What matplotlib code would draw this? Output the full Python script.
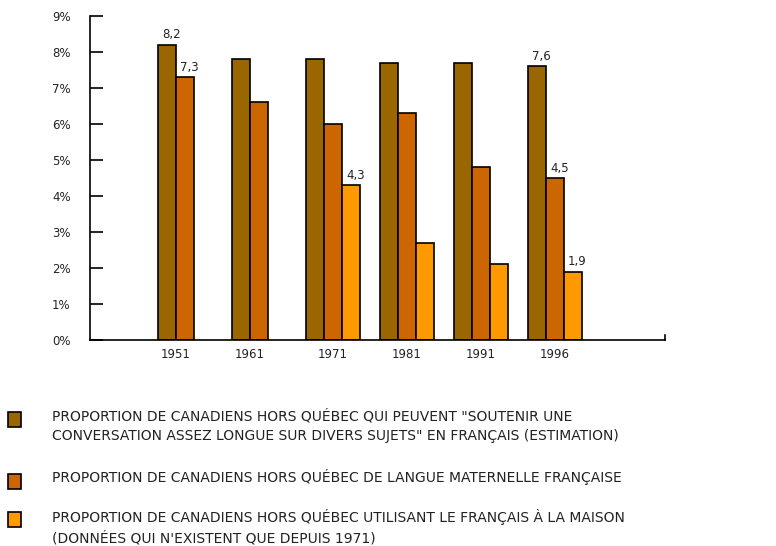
import numpy as np
import matplotlib
matplotlib.use("Agg")
import matplotlib.pyplot as plt
from matplotlib.patches import Rectangle

years = ["1951", "1961", "1971", "1981", "1991", "1996"]
conversation = [8.2, 7.8, 7.8, 7.7, 7.7, 7.6]
maternelle = [7.3, 6.6, 6.0, 6.3, 4.8, 4.5]
maison = [None, None, 4.3, 2.7, 2.1, 1.9]

series_labels = [
    'PROPORTION DE CANADIENS HORS QUÉBEC QUI PEUVENT "SOUTENIR UNE\n'
    'CONVERSATION ASSEZ LONGUE SUR DIVERS SUJETS" EN FRANÇAIS (ESTIMATION)',
    "PROPORTION DE CANADIENS HORS QUÉBEC DE LANGUE MATERNELLE FRANÇAISE",
    "PROPORTION DE CANADIENS HORS QUÉBEC UTILISANT LE FRANÇAIS À LA MAISON\n"
    "(DONNÉES QUI N'EXISTENT QUE DEPUIS 1971)",
]
colors = ["#996600", "#CC6600", "#FF9900"]

# value labels shown on the chart: (series, year index)
shown = [(0, 0), (1, 0), (2, 2), (0, 5), (1, 5), (2, 5)]

fig = plt.figure(figsize=(7.76, 5.46), dpi=100)
ax = fig.add_axes([90 / 776, 1 - 340 / 546, 575 / 776, 324 / 546])

w = 18 / 74
series = [conversation, maternelle, maison]
for j, vals in enumerate(series):
    for i, v in enumerate(vals):
        if v is None:
            continue
        ax.bar(i + j * w, v, width=w, align="edge", color=colors[j],
               edgecolor="black", linewidth=1.2)

fmt = lambda v: f"{v:.1f}".replace(".", ",")
for j, i in shown:
    v = series[j][i]
    ax.annotate(fmt(v), (i + j * w, v), xytext=(3, 2.5), textcoords="offset points",
                ha="left", va="bottom", fontsize=8.5, color="#222222")

# year labels centered under the bars that exist
for i, y in enumerate(years):
    n = sum(1 for s in series if s[i] is not None)
    ax.text(i + n * w / 2, -0.22, y, ha="center", va="top", fontsize=8.5,
            color="#222222", transform=ax.transData)

ax.set_xlim(-68 / 74, 507 / 74)
ax.set_ylim(0, 9)
ax.set_yticks(range(10))
ax.set_yticklabels([f"{k}%" for k in range(10)], fontsize=8.5, color="#222222")
ax.tick_params(axis="y", direction="in", length=9, width=1.2, pad=14)
ax.set_xticks([])
for s in ["top", "right"]:
    ax.spines[s].set_visible(False)
for s in ["left", "bottom"]:
    ax.spines[s].set_linewidth(1.2)
ax.plot([1, 1], [0, 0.015], color="black", lw=1.2, transform=ax.transAxes,
        clip_on=False)

# legend
leg_y = [420, 482, 520]
text_y = [426, 477, 527]
for k in range(3):
    fig.patches.append(Rectangle((8 / 776, 1 - (leg_y[k] + 7) / 546), 13 / 776, 15 / 546,
                                 transform=fig.transFigure, facecolor=colors[k],
                                 edgecolor="black", linewidth=1.2))
    fig.text(52 / 776, 1 - text_y[k] / 546, series_labels[k], ha="left", va="center",
             fontsize=10, color="#222222", linespacing=1.5)

fig.savefig("out.png", dpi=100)
